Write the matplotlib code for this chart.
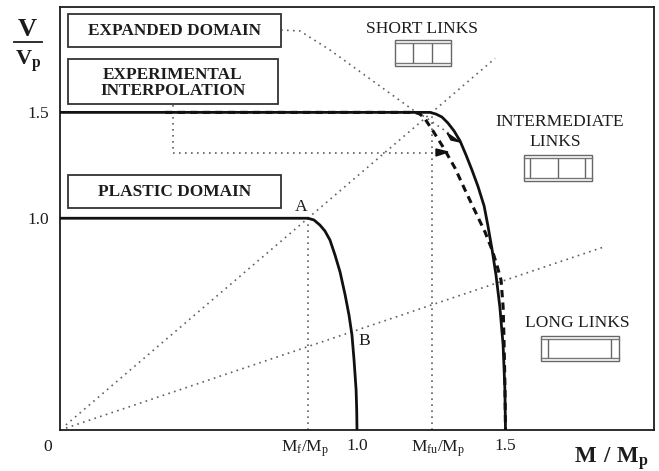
import matplotlib
matplotlib.use('Agg')
from matplotlib import pyplot as plt
from matplotlib.patches import Polygon, Rectangle

plt.rcParams['font.family'] = ['Liberation Serif', 'DejaVu Serif']
plt.rcParams['mathtext.fontset'] = 'custom'
plt.rcParams['mathtext.rm'] = 'Liberation Serif'
plt.rcParams['mathtext.bf'] = 'Liberation Serif:bold'
plt.rcParams['mathtext.default'] = 'rm'

# interaction curves
plastic_m = [0, 0.791, 0.835, 0.855, 0.875, 0.892, 0.909, 0.926, 0.943, 0.960, 0.973, 0.983, 0.990, 0.997, 0.999, 1.000]
plastic_v = [1.0, 1.0, 1.0, 0.992, 0.968, 0.940, 0.897, 0.826, 0.746, 0.638, 0.543, 0.449, 0.331, 0.189, 0.095, 0]

expanded_m = [0, 1.212, 1.246, 1.266, 1.286, 1.306, 1.327, 1.347, 1.367, 1.387, 1.407, 1.428, 1.441, 1.455, 1.468, 1.481, 1.492, 1.498, 1.500]
expanded_v = [1.5, 1.5, 1.5, 1.492, 1.478, 1.450, 1.412, 1.365, 1.299, 1.228, 1.152, 1.058, 0.963, 0.850, 0.732, 0.581, 0.401, 0.189, 0]

interp_m = [0.354, 1.195, 1.212, 1.229, 1.256, 1.290, 1.330, 1.364, 1.391, 1.431, 1.455, 1.471, 1.485, 1.492, 1.495, 1.498, 1.500]
interp_v = [1.5, 1.5, 1.492, 1.469, 1.412, 1.336, 1.237, 1.133, 1.053, 0.935, 0.850, 0.779, 0.708, 0.581, 0.425, 0.222, 0]

short_ray = [1.465, 1.755]
long_ray = [1.828, 0.863]
m_f = 0.835
m_fu = 1.253

x_ticks = [0.825, 1.0, 1.273, 1.5]
x_labels = [r'M$_{\mathrm{f}}$/M$_{\mathrm{p}}$', '1.0', r'M$_{\mathrm{fu}}$/M$_{\mathrm{p}}$', '1.5']
y_ticks = [1.0, 1.5]
y_labels = ['1.0', '1.5']

W, H = 659, 471
L, R, T, B = 60, 654, 6.5, 430
ink = '#1c1c1c'
dot = '#606060'

fig = plt.figure(figsize=(W / 100, H / 100), dpi=100)
ax = fig.add_axes([L / W, 1 - B / H, (R - L) / W, (B - T) / H])
ax.set_xlim(0, 2)
ax.set_ylim(0, 2)
for s in ax.spines.values():
    s.set_linewidth(1.3)
    s.set_color(ink)

ax.set_xticks(x_ticks)
ax.set_xticklabels(x_labels, fontsize=12.5, color=ink)
ax.set_yticks(y_ticks)
ax.set_yticklabels(y_labels, fontsize=12.5, color=ink)
ax.tick_params(axis='x', length=0, pad=6)
ax.tick_params(axis='y', length=0, pad=8)


def px(x, y):
    # picture pixels to data units, for the annotations
    return (x - L) / (R - L) * 2, (B - y) / (B - T) * 2


def pline(xs, ys, **kw):
    pts = [px(a, b) for a, b in zip(xs, ys)]
    ax.plot([p[0] for p in pts], [p[1] for p in pts], **kw)


dots = dict(color=dot, lw=1.2, ls=(0, (1, 2.6)), zorder=1)
ax.plot([0.02, short_ray[0]], [0.024, short_ray[1]], **dots)
ax.plot([0.02, long_ray[0]], [0.009, long_ray[1]], **dots)
ax.plot([m_f, m_f], [0, 1.0], **dots)
ax.plot([m_fu, m_fu], [0, 1.5], **dots)
pline([281, 300, 330, 413, 425, 450], [30, 31, 50, 110, 117, 134], **dots)
pline([173, 173, 438], [105, 153, 153], **dots)

ax.plot(plastic_m, plastic_v, color='#111111', lw=2.0, zorder=3, solid_joinstyle='round')
ax.plot(expanded_m, expanded_v, color='#111111', lw=2.0, zorder=3, solid_joinstyle='round')
ax.plot(interp_m, interp_v, color='#111111', lw=2.2, ls=(0, (2.4, 1.7)), zorder=3)

for tri in ([(447, 133), (451, 140), (460, 142)], [(436, 149), (436, 156), (448, 152)]):
    ax.add_patch(Polygon([px(a, b) for a, b in tri], closed=True, color='#111111', zorder=4))


def box(x0, y0, x1, y1, lines, yc):
    a = px(x0, y1)
    b = px(x1, y0)
    ax.add_patch(Rectangle(a, b[0] - a[0], b[1] - a[1], fc='white', ec='#333333', lw=1.3, zorder=5))
    for t, yy in zip(lines, yc):
        c = px((x0 + x1) / 2, yy)
        ax.text(c[0], c[1], t, fontsize=12.4, fontweight='bold', color=ink, ha='center', va='center', zorder=6)


box(68, 14, 281, 47, ['EXPANDED DOMAIN'], [31])
box(68, 59, 278, 104, ['EXPERIMENTAL', 'INTERPOLATION'], [75, 91])
box(68, 175, 281, 208, ['PLASTIC DOMAIN'], [192])


def link(x0, y0, x1, y1, stiff):
    a = px(x0, y1)
    b = px(x1, y0)
    ax.add_patch(Rectangle(a, b[0] - a[0], b[1] - a[1], fc='white', ec='#666666', lw=1.0, zorder=2))
    pline([x0, x1], [y0 + 3, y0 + 3], color='#777777', lw=1.0, zorder=3)
    pline([x0, x1], [y1 - 3, y1 - 3], color='#777777', lw=1.0, zorder=3)
    for s in stiff:
        pline([s, s], [y0 + 4, y1 - 4], color='#666666', lw=1.0, zorder=3)


link(395, 40, 451, 66, [413, 432])
link(524, 155, 592, 181, [530, 558, 585])
link(541, 336, 619, 361, [548, 611])


def label(x, y, t, size=12.6, weight='normal', **kw):
    c = px(x, y)
    ax.text(c[0], c[1], t, fontsize=size, fontweight=weight, color=ink, ha='center', va='center', clip_on=False, **kw)


label(422, 29, 'SHORT LINKS')
label(560, 122, 'INTERMEDIATE')
label(555, 142, 'LINKS')
label(577, 323, 'LONG LINKS')
label(301, 207, 'A')
label(364, 341, 'B')
label(48, 447, '0')
label(27, 30, 'V', size=19, weight='bold')
label(28, 61, r'$\mathbf{V_p}$', size=16)
label(611, 459, r'$\mathbf{M\ /\ M_p}$', size=16.5)
pline([14, 42], [42, 42], color=ink, lw=1.3, clip_on=False)

plt.savefig('out.png', dpi=100)
